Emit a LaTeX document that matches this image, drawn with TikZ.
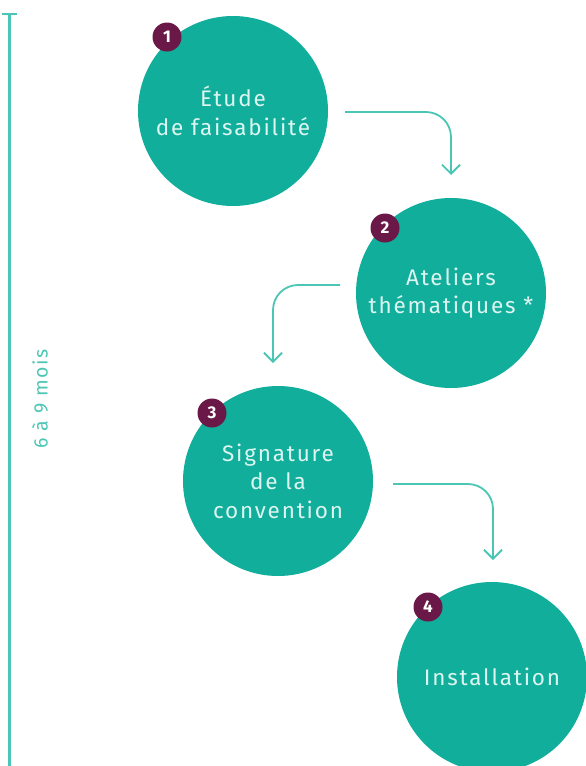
\documentclass[tikz,border=0pt]{standalone}
\usepackage{fontspec}
\setmainfont{Fira Sans}
\newfontfamily\widefont[LetterSpace=8]{Fira Sans}
\usetikzlibrary{arrows.meta}
\definecolor{stepteal}{HTML}{10AE9B}
\definecolor{linkteal}{HTML}{4CC6B4}
\definecolor{badgeplum}{HTML}{6A1848}
\definecolor{steptext}{HTML}{DDF5F0}
\begin{document}
\begin{tikzpicture}[x=1pt,y=-1pt,
  stepdisc/.style={circle,fill=stepteal,minimum size=190pt,inner sep=0pt,
    text=steptext,align=center,font=\widefont\fontsize{22.5}{28.5}\selectfont},
  badge/.style={circle,fill=badgeplum,minimum size=29pt,inner sep=0pt,
    text=white,font=\fontsize{17}{17}\selectfont\bfseries},
  link/.style={draw=linkteal,line width=1.8pt,rounded corners=25pt,
    -{Straight Barb[length=9pt,width=18pt,line width=1.8pt]}},
  timeline/.style={draw=linkteal,line width=2.8pt}]
\useasboundingbox (0,0) rectangle (586,766);

% timeline on the left
\coordinate (tTop) at (9.5,14);
\coordinate (tBot) at (9.5,770);
\coordinate (tickL) at (2,14);
\coordinate (tickR) at (17,14);
\draw[timeline] (tTop) -- (tBot);
\draw[timeline] (tickL) -- (tickR);
\node[rotate=90,text=linkteal,font=\widefont\fontsize{19.5}{19.5}\selectfont] (dur) at (40,399) {6 à 9 mois};

% steps
\node[stepdisc] (s1) at (233,111) {Étude\\de faisabilité};
\node[stepdisc] (s2) at (451,293) {Ateliers\\thématiques *};
\node[stepdisc] (s3) at (278,481) {Signature\\de la\\convention};
\node[stepdisc] (s4) at (492,677) {Installation};

% step numbers
\node[badge] (b1) at (167,37) {1};
\node[badge] (b2) at (385,228) {2};
\node[badge] (b3) at (212,413) {3};
\node[badge] (b4) at (428,607) {4};

% connectors between steps
\coordinate (a1s) at (345,112);
\coordinate (a1e) at (451,175);
\coordinate (a2s) at (340,285);
\coordinate (a2e) at (273,363);
\coordinate (a3s) at (393,484);
\coordinate (a3e) at (493,560);
\draw[link] (a1s) -| (a1e);
\draw[link] (a2s) -| (a2e);
\draw[link] (a3s) -| (a3e);
\end{tikzpicture}
\end{document}
